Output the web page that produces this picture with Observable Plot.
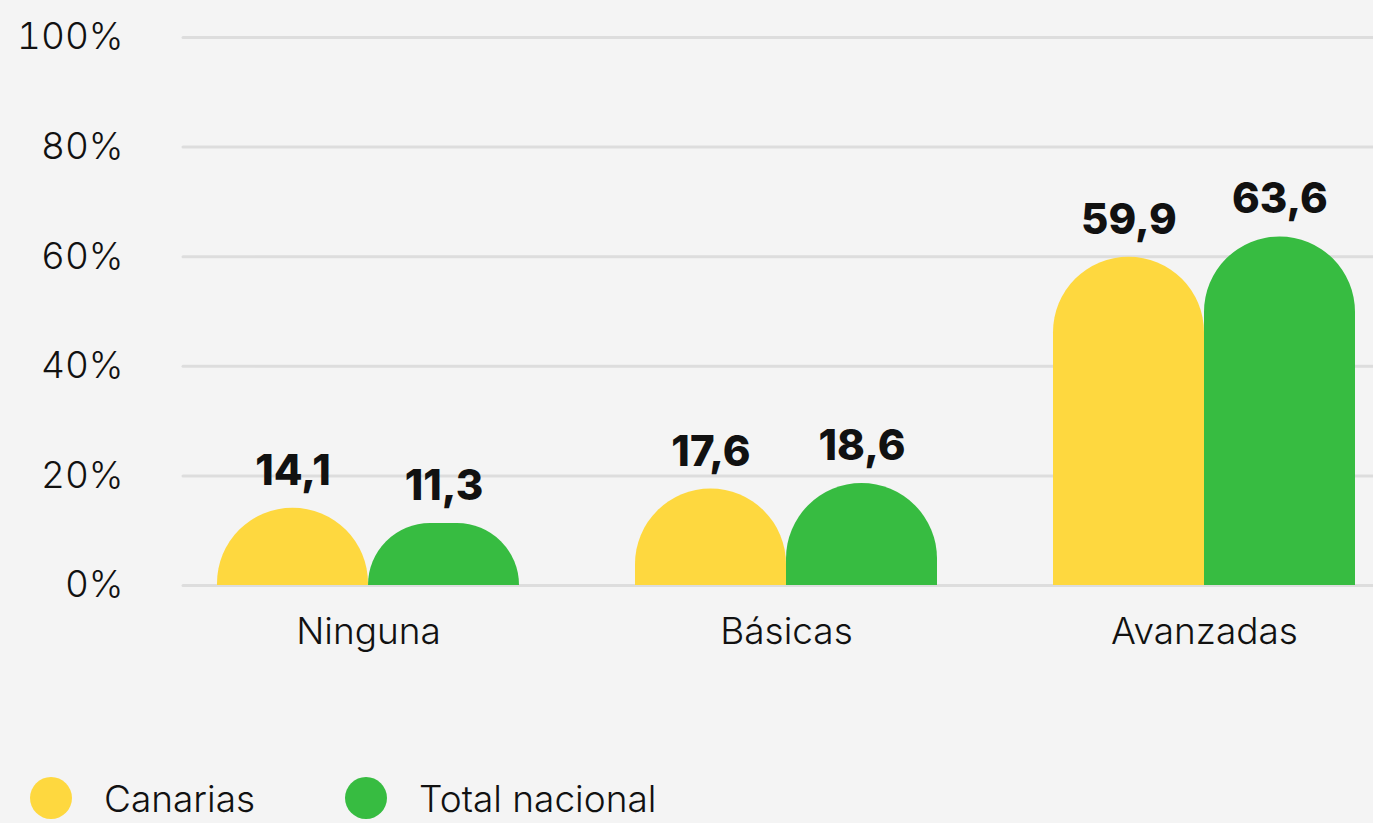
<!DOCTYPE html>
<html><head><meta charset="utf-8">
<script src="https://cdn.jsdelivr.net/npm/d3@7"></script>
<script src="https://cdn.jsdelivr.net/npm/@observablehq/plot@0.6"></script>
<style>
html,body{margin:0;padding:0;background:#f4f4f4;}
body{width:1373px;height:823px;overflow:hidden;font-family:Inter,"Open Sans",sans-serif;}
#legend{display:flex;align-items:center;height:42px;margin-top:77px;padding-left:30px;font-size:37px;font-weight:300;color:#111;}
.sw{width:42px;height:42px;border-radius:50%;display:inline-block;margin-right:32px;}
.item{display:flex;align-items:center;margin-right:90px;}
</style></head><body>
<div id="chart"></div>
<div id="legend"></div>
<script>
const categories = ["Ninguna", "Básicas", "Avanzadas"];
const series = ["Canarias", "Total nacional"];
const canarias = [14.1, 17.6, 59.9];
const totalNacional = [11.3, 18.6, 63.6];
const colors = ["#FED83F", "#37BC41"];
const yTicks = [0, 20, 40, 60, 80, 100];

const rowsC = categories.map((c, i) => ({category: c, series: series[0], value: canarias[i]}));
const rowsT = categories.map((c, i) => ({category: c, series: series[1], value: totalNacional[i]}));
const fmt = d => d.value.toFixed(1).replace(".", ",");

const half = 151;
const plot = Plot.plot({
  width: 1373,
  height: 700,
  marginLeft: 183,
  marginRight: 0,
  marginTop: 37,
  marginBottom: 115,
  style: {background: "transparent", fontFamily: "Inter, 'Open Sans', sans-serif", color: "#111", overflow: "visible"},
  x: {domain: categories, range: [183, 1389], paddingInner: 0.2775, paddingOuter: 0.0813, label: null},
  y: {domain: [0, 100], label: null},
  marks: [
    Plot.ruleY(yTicks, {stroke: "#dddddd", strokeWidth: 3, strokeLinecap: "round"}),
    Plot.barY(rowsC, {x: "category", y: "value", fill: colors[0], insetRight: half, ry1: 75.5}),
    Plot.barY(rowsT, {x: "category", y: "value", fill: colors[1], insetLeft: half, ry1: 75.5}),
    Plot.text(rowsC, {x: "category", y: "value", text: fmt, dx: -75.5, dy: -37, fontSize: 42, fontWeight: 800, fill: "#111"}),
    Plot.text(rowsT, {x: "category", y: "value", text: fmt, dx: 75.5, dy: -37, fontSize: 42, fontWeight: 800, fill: "#111"}),
    Plot.axisY({ticks: yTicks, tickSize: 0, tickPadding: 60, tickFormat: d => d + "%", fontSize: 37, fontWeight: 300, label: null}),
    Plot.axisX({tickSize: 0, tickPadding: 32, fontSize: 37, fontWeight: 300, label: null})
  ]
});
document.getElementById("chart").appendChild(plot);

const legend = document.getElementById("legend");
series.forEach((s, i) => {
  const item = document.createElement("div");
  item.className = "item";
  const sw = document.createElement("span");
  sw.className = "sw";
  sw.style.background = colors[i];
  const lab = document.createElement("span");
  lab.textContent = s;
  item.appendChild(sw);
  item.appendChild(lab);
  legend.appendChild(item);
});
</script>
</body></html>
